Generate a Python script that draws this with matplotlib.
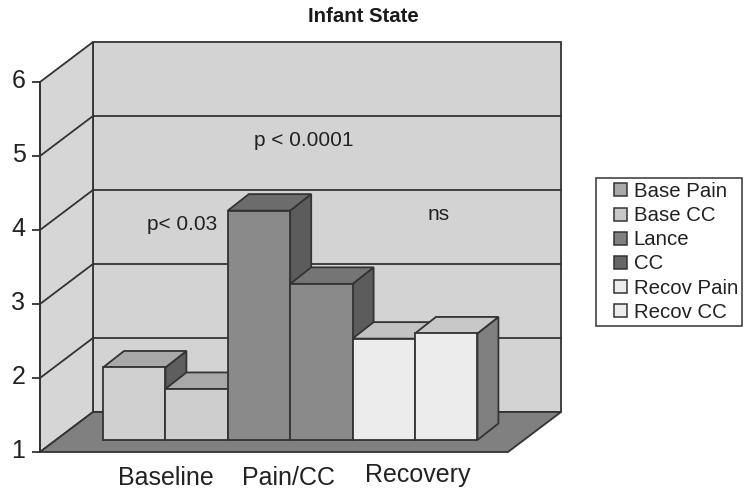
import matplotlib
matplotlib.use("Agg")
import matplotlib.pyplot as plt
from matplotlib.patches import Polygon, Patch, Rectangle
from matplotlib.legend_handler import HandlerPatch
from matplotlib.transforms import ScaledTranslation

plt.rcParams["font.family"] = ["Liberation Sans", "DejaVu Sans"]

# === Data ===
categories = ["Baseline", "Pain/CC", "Recovery"]
series_names = ["Base Pain", "Base CC", "Lance", "CC", "Recov Pain", "Recov CC"]
values = [1.98, 1.69, 4.10, 3.11, 2.37, 2.44]
y_ticks = [1, 2, 3, 4, 5, 6]

# === Styles (front, top, side, legend swatch) ===
front_cols = ["#d0d0d0", "#cecece", "#8a8a8a", "#8a8a8a", "#ececec", "#ececec"]
top_cols = ["#a8a8a8", "#a8a8a8", "#6c6c6c", "#757575", "#c2c2c2", "#c8c8c8"]
side_cols = ["#5e5e5e", "#5e5e5e", "#5c5c5c", "#5c5c5c", "#808080", "#808080"]
swatch_cols = ["#a8a8a8", "#c8c8c8", "#808080", "#666666", "#ececec", "#ececec"]
LINE = "#333333"
WALL = "#d3d3d3"
FLOOR = "#808080"

# === Scale: one bar slot wide = 62.4 px, one y unit = 74 px ===
W, H = 754, 496
SLOT, UNIT = 62.4, 74.0
X0_PX, Y1_PX = 103.0, 452.0  # slot 0 of bars / value 1 at front of the box


def xd(px):
    return (px - X0_PX) / SLOT


def yd(py):
    return 1 + (Y1_PX - py) / UNIT


fig = plt.figure(figsize=(W / 100, H / 100), dpi=100)
ax = fig.add_axes([0, 0, 1, 1])
ax.set_xlim(xd(0), xd(W))
ax.set_ylim(yd(H), yd(0))

# box corners and depth
left, right = xd(40), xd(508)
ddx, ddy = 53 / SLOT, 40 / UNIT
vmin, vmax = y_ticks[0], y_ticks[-1]


def poly(pts, color, z=1, lw=1.3):
    ax.add_patch(Polygon(pts, closed=True, facecolor=color, edgecolor=LINE, linewidth=lw, zorder=z))


# walls and floor
poly([(left + ddx, vmin + ddy), (right + ddx, vmin + ddy), (right + ddx, vmax + ddy), (left + ddx, vmax + ddy)], WALL)
poly([(left, vmin), (left + ddx, vmin + ddy), (left + ddx, vmax + ddy), (left, vmax)], "#d6d6d6")
for v in y_ticks[1:-1]:
    ax.plot([left, left + ddx, right + ddx], [v, v + ddy, v + ddy], color=LINE, lw=1.3, zorder=2)
poly([(left, vmin), (right, vmin), (right + ddx, vmin + ddy), (left + ddx, vmin + ddy)], FLOOR, z=3)

# bars stand inside the box, so value 1 sits on the raised base line
# left to right so the nearer one covers the side of the one before
base = yd(440)
bdx, bdy = 21 / SLOT, 16.5 / UNIT
for i, val in enumerate(values):
    z = 4 + i
    v = base + val - vmin
    poly([(i + 1, base), (i + 1 + bdx, base + bdy), (i + 1 + bdx, v + bdy), (i + 1, v)], side_cols[i], z)
    poly([(i, v), (i + 1, v), (i + 1 + bdx, v + bdy), (i + bdx, v + bdy)], top_cols[i], z)
    poly([(i, base), (i + 1, base), (i + 1, v), (i, v)], front_cols[i], z)

# axis
for s in ["top", "right", "bottom"]:
    ax.spines[s].set_visible(False)
ax.spines["left"].set_position(("data", left))
ax.spines["left"].set_bounds(vmin, vmax)
ax.spines["left"].set_color(LINE)
ax.spines["left"].set_linewidth(1.3)
ax.spines["left"].set_zorder(12)
ax.set_yticks(y_ticks)
ax.tick_params(axis="y", length=5.5, width=1.3, color=LINE, labelsize=18, labelcolor="#222222", pad=5)
ax.set_xticks([])

# digits sit a little above their ticks in the original
nudge = ScaledTranslation(0, 2.5 / 72, fig.dpi_scale_trans)
for lab in ax.get_yticklabels():
    lab.set_transform(lab.get_transform() + nudge)

# category labels
cat_x = [166, 289, 418]
cat_y = [478, 478, 475]
for name, px, py in zip(categories, cat_x, cat_y):
    ax.text(xd(px), yd(py), name, ha="center", va="center", fontsize=18, color="#222222")

ax.text(xd(363), yd(16), "Infant State", ha="center", va="center", fontsize=14.7, fontweight="bold", color="#1a1a1a")
ax.text(xd(304), yd(140), "p < 0.0001", ha="center", va="center", fontsize=15, color="#222222")
ax.text(xd(182), yd(224), "p< 0.03", ha="center", va="center", fontsize=15, color="#222222")
ax.text(xd(439), yd(214), "ns", ha="center", va="center", fontsize=15, color="#222222")


# legend swatch sits at the right of a wider handle box
def swatch(legend, orig_handle, xdescent, ydescent, width, height, fontsize):
    return Rectangle((width - 13 * 0.72, (height - 13 * 0.72) / 2), 13 * 0.72, 13 * 0.72)


handles = [Patch(facecolor=c, edgecolor=LINE, linewidth=1.1) for c in swatch_cols]
leg = ax.legend(handles, series_names, loc="upper left", bbox_to_anchor=(596 / W, 1 - 178 / H),
                bbox_transform=fig.transFigure, fontsize=14.7, frameon=True, fancybox=False,
                borderaxespad=0, borderpad=0.2, labelspacing=0.25, handlelength=1.3, handleheight=0.7,
                handletextpad=0.34, labelcolor="#222222",
                handler_map={Patch: HandlerPatch(patch_func=swatch)})
leg.get_frame().set_edgecolor("#444444")
leg.get_frame().set_linewidth(1.2)
leg.get_frame().set_alpha(1)
leg.set_zorder(20)

fig.savefig("out.png", dpi=100, facecolor="white")
